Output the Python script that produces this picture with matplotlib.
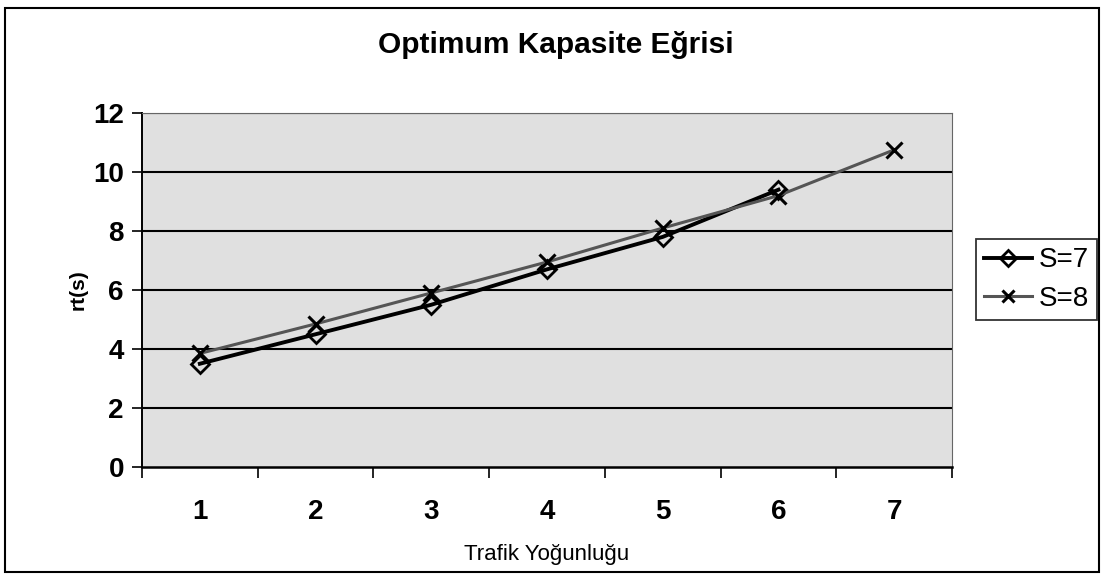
import matplotlib

matplotlib.use("Agg")
import matplotlib.pyplot as plt
from matplotlib.patches import Rectangle

plt.rcParams["font.family"] = ["Liberation Sans", "DejaVu Sans"]

# values
categories = [1, 2, 3, 4, 5, 6, 7]
s7_x = [1, 2, 3, 4, 5, 6]
s7_y = [3.5, 4.5, 5.5, 6.7, 7.8, 9.4]
s8_x = [1, 2, 3, 4, 5, 6, 7]
s8_y = [3.85, 4.85, 5.9, 6.95, 8.1, 9.2, 10.75]
y_ticks = [0, 2, 4, 6, 8, 10, 12]

W, H = 1104, 579
fig = plt.figure(figsize=(W / 100, H / 100), dpi=100)
ax = fig.add_axes([142 / W, 1 - 467 / H, (952 - 142) / W, (467 - 113) / H])
ax.set_facecolor("#e0e0e0")

for y in y_ticks[1:]:
    ax.axhline(y, color="black", lw=1.5, zorder=1)

ax.plot(s7_x, s7_y, color="black", lw=2.8, marker="D", ms=9, mfc="none",
        mec="black", mew=2.0, label="S=7", zorder=3)
ax.plot(s8_x, s8_y, color="#555555", lw=2.2, marker="x", ms=11,
        mec="black", mew=2.2, label="S=8", zorder=4)

ax.set_xlim(0.5, 7.5)
ax.set_ylim(0, 12)
ax.set_xticks(categories)
ax.set_xticklabels([str(c) for c in categories], fontsize=20, fontweight="bold")
ax.set_xticks([c - 0.5 for c in categories] + [7.5], minor=True)
ax.tick_params(axis="x", which="major", length=0, pad=23)
ax.tick_params(axis="x", which="minor", length=8, width=1.2, direction="out")
ax.set_yticks(y_ticks)
ax.set_yticklabels([str(v) for v in y_ticks], fontsize=20, fontweight="bold")
ax.tick_params(axis="y", length=7, width=1.2, direction="out", pad=6)
for side in ["top", "right"]:
    ax.spines[side].set_color("#666666")
ax.spines["bottom"].set_linewidth(1.8)
ax.spines["left"].set_linewidth(1.4)

ax.set_xlabel("Trafik Yoğunluğu", fontsize=16, labelpad=14)
ax.set_ylabel("rt(s)", fontsize=15, fontweight="bold", labelpad=4)
fig.text(556 / W, 1 - 45 / H, "Optimum Kapasite Eğrisi", ha="center", va="center",
         fontsize=21.5, fontweight="bold")

leg = fig.legend(loc="upper left", bbox_to_anchor=(976 / W, 1 - 239 / H),
                 fontsize=20, frameon=True, fancybox=False, borderaxespad=0,
                 handlelength=1.7, handletextpad=0.25, borderpad=0.3,
                 labelspacing=0.45, markerscale=0.85)
leg.get_frame().set_edgecolor("black")
leg.get_frame().set_linewidth(1.3)

fig.patches.append(Rectangle((5 / W, 1 - 572 / H), 1094 / W, 564 / H,
                             transform=fig.transFigure, fill=False,
                             edgecolor="black", lw=1.5))

fig.savefig("out.png", dpi=100)
